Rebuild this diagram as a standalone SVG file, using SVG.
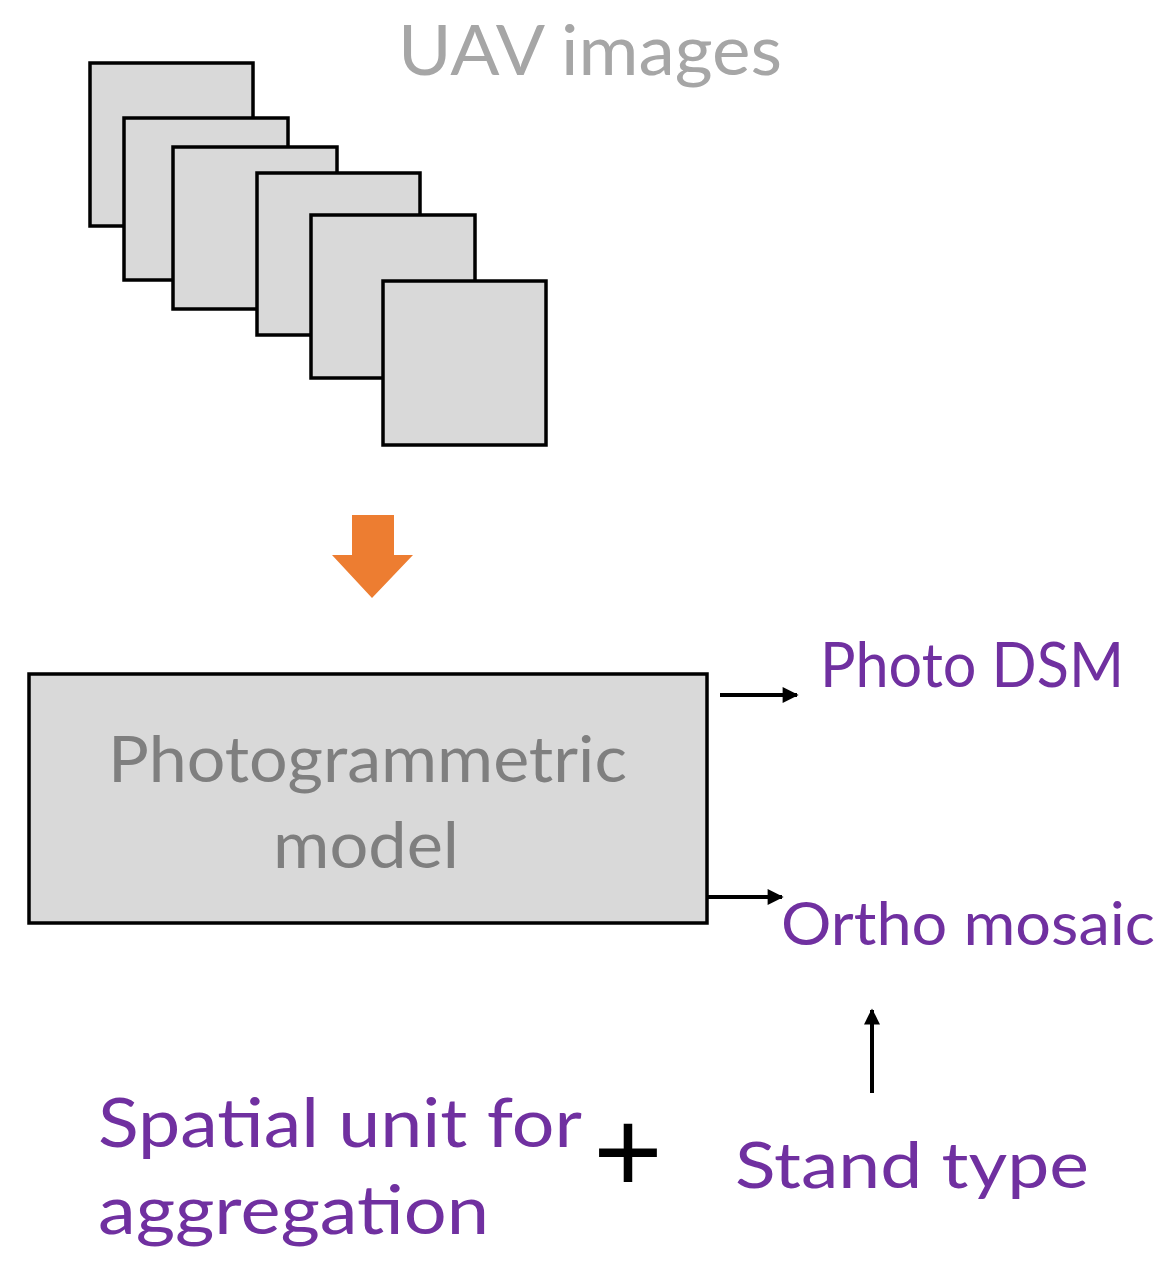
<svg xmlns="http://www.w3.org/2000/svg" width="1159" height="1263" viewBox="0 0 1159 1263">
  <style>
    .sheet { fill: #d9d9d9; stroke: #000; stroke-width: 3.5; }
    .box { fill: #d9d9d9; stroke: #000; stroke-width: 3.5; }
    .lbl { font-family: Lato, "Open Sans", "Liberation Sans", sans-serif; }
    .gray { fill: #7f7f7f; }
    .light { fill: #a6a6a6; }
    .purple { fill: #7030a0; }
    .link { stroke: #000; stroke-width: 4; fill: none; marker-end: url(#head); }
  </style>
  <defs>
    <marker id="head" viewBox="0 0 10 10" refX="9" refY="5" markerUnits="userSpaceOnUse" markerWidth="19" markerHeight="16" orient="auto">
      <path d="M0,0 L10,5 L0,10 Z" fill="#000"/>
    </marker>
  </defs>

  <rect width="1159" height="1263" fill="#fff"/>

  <!-- stack of image sheets -->
  <g id="uav-images">
    <rect class="sheet" x="90" y="63" width="163" height="163"/>
    <rect class="sheet" x="124" y="118" width="164" height="162"/>
    <rect class="sheet" x="173" y="147" width="164" height="162"/>
    <rect class="sheet" x="257" y="173" width="163" height="162"/>
    <rect class="sheet" x="311" y="215" width="164" height="163"/>
    <rect class="sheet" x="383" y="281" width="163" height="164"/>
    <text class="lbl light" x="398" y="75" font-size="70" textLength="384" lengthAdjust="spacingAndGlyphs">UAV images</text>
  </g>

  <!-- processing step arrow -->
  <g id="step-arrow">
    <path d="M352,515 L394,515 L394,555 L413,555 L372,598 L332,555 L352,555 Z" fill="#ed7d31"/>
  </g>

  <g id="photogrammetric-model">
    <rect class="box" x="29" y="674" width="678" height="249"/>
    <text class="lbl gray" x="108" y="782" font-size="63" textLength="519" lengthAdjust="spacingAndGlyphs">Photogrammetric</text>
    <text class="lbl gray" x="273" y="868" font-size="63" textLength="186" lengthAdjust="spacingAndGlyphs">model</text>
  </g>

  <g id="photo-dsm">
    <text class="lbl purple" x="820" y="687" font-size="61" textLength="304" lengthAdjust="spacingAndGlyphs">Photo DSM</text>
  </g>

  <g id="ortho-mosaic">
    <text class="lbl purple" x="781" y="945" font-size="60" textLength="374" lengthAdjust="spacingAndGlyphs">Ortho mosaic</text>
  </g>

  <g id="stand-type">
    <text class="lbl purple" x="735" y="1188" font-size="63" textLength="354" lengthAdjust="spacingAndGlyphs">Stand type</text>
  </g>

  <g id="spatial-unit">
    <text class="lbl purple" x="98" y="1147" font-size="67" textLength="484" lengthAdjust="spacingAndGlyphs">Spatial unit for</text>
    <text class="lbl purple" x="98" y="1234" font-size="67" textLength="391" lengthAdjust="spacingAndGlyphs">aggregation</text>
  </g>

  <g id="plus">
    <text x="628" y="1192" font-family="'Liberation Sans', Arial, sans-serif" font-size="119" text-anchor="middle" fill="#000">+</text>
  </g>

  <g id="connectors">
    <line class="link" x1="720" y1="695" x2="797" y2="695"/>
    <line class="link" x1="707" y1="897" x2="782" y2="897"/>
    <line class="link" x1="872" y1="1093" x2="872" y2="1010"/>
  </g>
</svg>
